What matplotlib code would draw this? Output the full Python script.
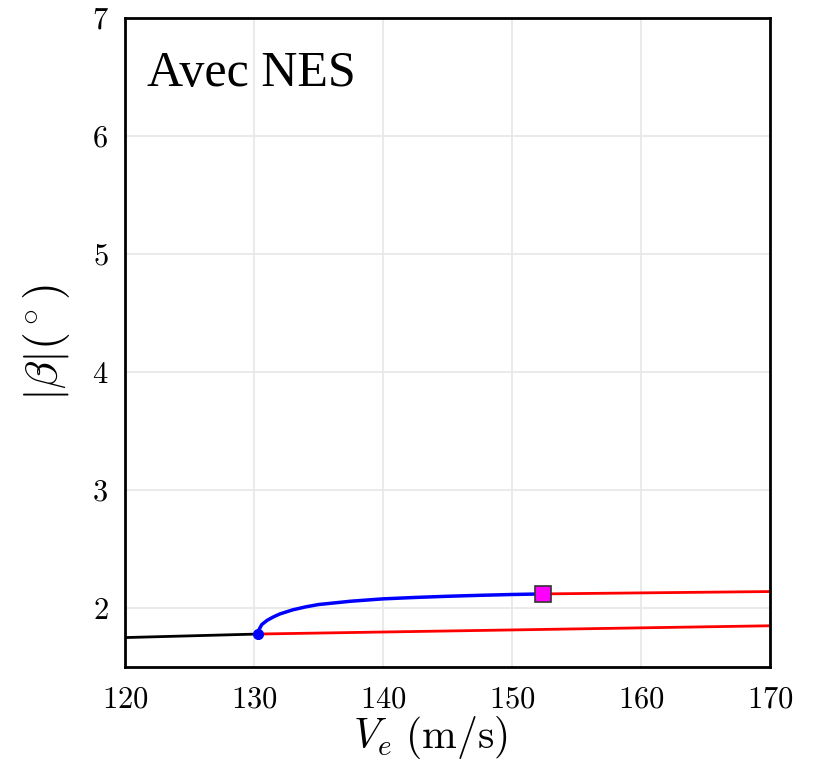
import matplotlib
matplotlib.use('Agg')
import matplotlib.pyplot as plt

plt.rcParams['mathtext.fontset'] = 'cm'
plt.rcParams['font.family'] = 'serif'
plt.rcParams['font.serif'] = ['cmr10', 'DejaVu Serif']
plt.rcParams['axes.formatter.use_mathtext'] = True
plt.rcParams['axes.unicode_minus'] = False

# Stable branch before the bifurcation
v_stable = [120, 130.3]
b_stable = [1.75, 1.78]

# Limit cycle branch (blue, stable) up to the fold
v_blue = [130.3, 130.4, 130.6, 131, 131.5, 132, 133, 134, 135, 137.5,
          140, 142.5, 145, 147.5, 150, 152.4]
b_blue = [1.78, 1.82, 1.86, 1.895, 1.925, 1.95, 1.985, 2.01, 2.03, 2.058,
          2.078, 2.09, 2.10, 2.108, 2.115, 2.12]

# Unstable branches (red)
v_red_low = [130.3, 170]
b_red_low = [1.78, 1.85]
v_red_up = [152.4, 170]
b_red_up = [2.12, 2.14]

# Special points
hopf_v, hopf_b = 130.3, 1.78
fold_v, fold_b = 152.4, 2.12

xticks = [120, 130, 140, 150, 160, 170]
yticks = [2, 3, 4, 5, 6, 7]

fig = plt.figure(figsize=(8.15, 7.65), dpi=100)
ax = fig.add_axes([0.1534, 0.128, 0.7914, 0.8485])

ax.plot(v_stable, b_stable, color='black', lw=2)
ax.plot(v_red_low, b_red_low, color='red', lw=2)
ax.plot(v_red_up, b_red_up, color='red', lw=2)
ax.plot(v_blue, b_blue, color='blue', lw=2.5)
ax.plot(hopf_v, hopf_b, 'o', color='blue', markersize=7, zorder=5)
ax.plot(fold_v, fold_b, 's', markerfacecolor='magenta', markeredgecolor='#333333',
        markeredgewidth=1.2, markersize=12, zorder=5)

ax.text(121.7, 6.42, 'Avec NES', fontsize=36, family='Liberation Serif')

ax.set_xlim(120, 170)
ax.set_ylim(1.5, 7)
ax.set_xticks(xticks)
ax.set_yticks(yticks)
ax.tick_params(labelsize=22, length=0)
ax.tick_params(axis='x', pad=14)
ax.tick_params(axis='y', pad=12)
ax.grid(color='#e8e8e8', lw=1.3)
for s in ax.spines.values():
    s.set_linewidth(2)

# x label placed by hand (baseline) to sit just under the tick labels
ax.text(0.473, -0.125, r'$V_e\ \mathrm{(m/s)}$', fontsize=30,
        ha='center', va='baseline', transform=ax.transAxes)
ax.set_ylabel(r'$|\beta|(^\circ)$', fontsize=33, labelpad=14)

fig.savefig('out.png', dpi=100)
